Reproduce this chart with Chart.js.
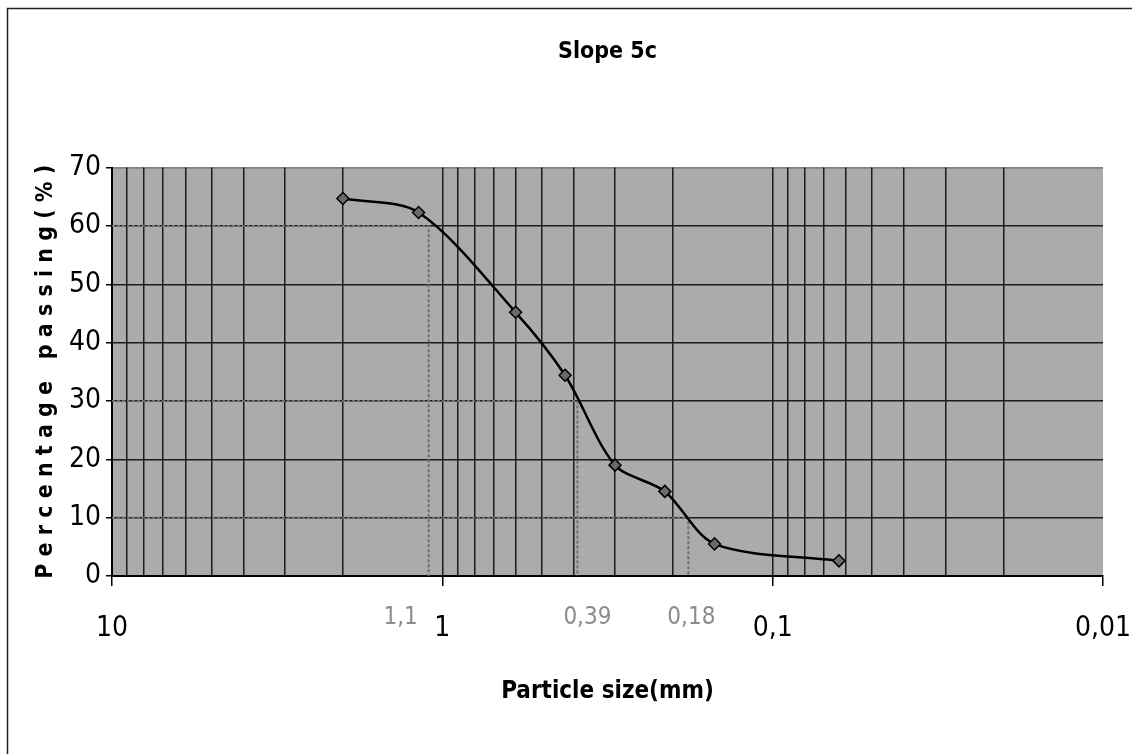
<!DOCTYPE html>
<html>
<head>
<meta charset="utf-8">
<script src="https://cdn.jsdelivr.net/npm/chart.js@4.4.0/dist/chart.umd.min.js"></script>
<style>
  html, body { margin: 0; padding: 0; background: #ffffff; }
  #wrap { position: relative; width: 1132px; height: 754px; }
</style>
</head>
<body>
<div id="wrap"><canvas id="c" width="1132" height="754"></canvas></div>
<script>
// ---- data ----
const particleSize = [2.0, 1.18, 0.6, 0.425, 0.3, 0.212, 0.15, 0.063];
const percentPassing = [64.7, 62.3, 45.2, 34.4, 19.0, 14.5, 5.5, 2.6];

const xTickValues = [10, 1, 0.1, 0.01];
const xTickLabels = ['10', '1', '0,1', '0,01'];
const yTickLabels = ['0', '10', '20', '30', '40', '50', '60', '70'];

// characteristic diameters D60, D30, D10
const dPercent = [60, 30, 10];
const dValues = [1.1, 0.39, 0.18];
const dLabels = ['1,1', '0,39', '0,18'];

const chartTitle = 'Slope 5c';
const xTitle = 'Particle size(mm)';
const yTitle = 'P e r c e n t a g e   p a s s i n g ( % )';

// ---- styles ----
const FONT = "'DejaVu Sans Condensed', 'Liberation Sans Narrow', 'Arial Narrow', 'Liberation Sans', sans-serif";
const dLabelOffsets = [-28, 10, 3];

const mainData = particleSize.map((x, i) => ({ x: x, y: percentPassing[i] }));
const guideSets = dValues.map((v, i) => ({
  type: 'line',
  data: [{ x: 10, y: dPercent[i] }, { x: v, y: dPercent[i] }, { x: v, y: 0 }],
  borderColor: '#6e6e6e',
  borderWidth: 2,
  borderDash: [3, 2],
  pointRadius: 0,
  tension: 0,
  fill: false,
  order: 2
}));

// minor grid positions on the log axis (1..9 x each decade)
function logGridValues() {
  const out = [];
  for (let e = -2; e <= 0; e++) {
    for (let m = 1; m <= 9; m++) out.push(+(m * Math.pow(10, e)).toPrecision(3));
  }
  out.push(10);
  return out;
}

const bgPlugin = {
  id: 'bg',
  beforeDraw(chart) {
    const { ctx, chartArea: a } = chart;
    ctx.save();
    ctx.fillStyle = '#ababab';
    ctx.fillRect(a.left, a.top, a.right - a.left, a.bottom - a.top);
    ctx.restore();
  },
  afterDraw(chart) {
    const { ctx } = chart;
    const xs = chart.scales.x;
    ctx.save();
    // outer frame (left and top)
    ctx.strokeStyle = '#222';
    ctx.lineWidth = 1.5;
    ctx.beginPath();
    ctx.moveTo(7.5, 754);
    ctx.lineTo(7.5, 8.5);
    ctx.lineTo(1132, 8.5);
    ctx.stroke();
    // D-value labels
    ctx.font = "24px " + FONT;
    ctx.fillStyle = '#8c8c8c';
    ctx.textAlign = 'center';
    ctx.textBaseline = 'middle';
    dValues.forEach((v, i) => {
      ctx.fillText(dLabels[i], xs.getPixelForValue(v) + dLabelOffsets[i], chart.chartArea.bottom + 42);
    });
    ctx.restore();
  }
};

new Chart(document.getElementById('c'), {
  type: 'line',
  data: {
    datasets: [{
      data: mainData,
      borderColor: '#000',
      borderWidth: 2.5,
      tension: 0.3,
      pointStyle: 'rectRot',
      pointRadius: 6,
      pointBackgroundColor: '#6a6a6a',
      pointBorderColor: '#000',
      pointBorderWidth: 1.5,
      fill: false,
      order: 1
    }].concat(guideSets)
  },
  options: {
    responsive: false,
    animation: false,
    layout: { padding: { left: 30, right: 29, top: 0, bottom: 20 } },
    plugins: {
      legend: { display: false },
      tooltip: { enabled: false },
      title: {
        display: true,
        text: chartTitle,
        fullSize: false,
        color: '#000',
        font: { family: FONT, size: 23, weight: 'bold' },
        padding: { top: 38, bottom: 102 }
      }
    },
    scales: {
      x: {
        type: 'logarithmic',
        reverse: true,
        min: 0.01,
        max: 10,
        afterBuildTicks(scale) {
          scale.ticks = logGridValues().map(v => ({ value: v }));
        },
        afterFit(scale) { scale.height = 754 - 576 - 20; },
        border: { display: true, color: '#000', width: 2 },
        grid: {
          color: ctx => (ctx.tick && ctx.tick.value === 0.01) ? 'rgba(0,0,0,0)' : '#1c1c1c',
          lineWidth: 1.5,
          drawTicks: true,
          tickLength: 10,
          tickColor: ctx => (ctx.tick && xTickValues.includes(ctx.tick.value)) ? '#000' : 'rgba(0,0,0,0)'
        },
        ticks: {
          autoSkip: false,
          maxRotation: 0,
          color: '#000',
          padding: 26,
          font: { family: FONT, size: 28 },
          callback(value) {
            const i = xTickValues.indexOf(+value);
            return i >= 0 ? xTickLabels[i] : '';
          }
        },
        title: {
          display: true,
          text: xTitle,
          color: '#000',
          font: { family: FONT, size: 24, weight: 'bold' },
          padding: { top: 0, bottom: 28 }
        }
      },
      y: {
        min: 0,
        max: 70,
        afterFit(scale) { scale.width = 112 - 30; },
        border: { display: true, color: '#000', width: 2 },
        grid: {
          color: ctx => (ctx.tick && ctx.tick.value === 70) ? 'rgba(40,40,40,0.5)' : '#1c1c1c',
          lineWidth: 1.5,
          tickLength: 6,
          tickColor: '#000'
        },
        ticks: {
          stepSize: 10,
          color: '#000',
          padding: 5,
          font: { family: FONT, size: 28 },
          callback(value) {
            const i = Math.round(value / 10);
            return yTickLabels[i] !== undefined ? yTickLabels[i] : '';
          }
        },
        title: {
          display: true,
          text: yTitle,
          color: '#000',
          font: { family: FONT, size: 23, weight: 'bold' },
          padding: { top: 2, bottom: 0 }
        }
      }
    }
  },
  plugins: [bgPlugin]
});
</script>
</body>
</html>
